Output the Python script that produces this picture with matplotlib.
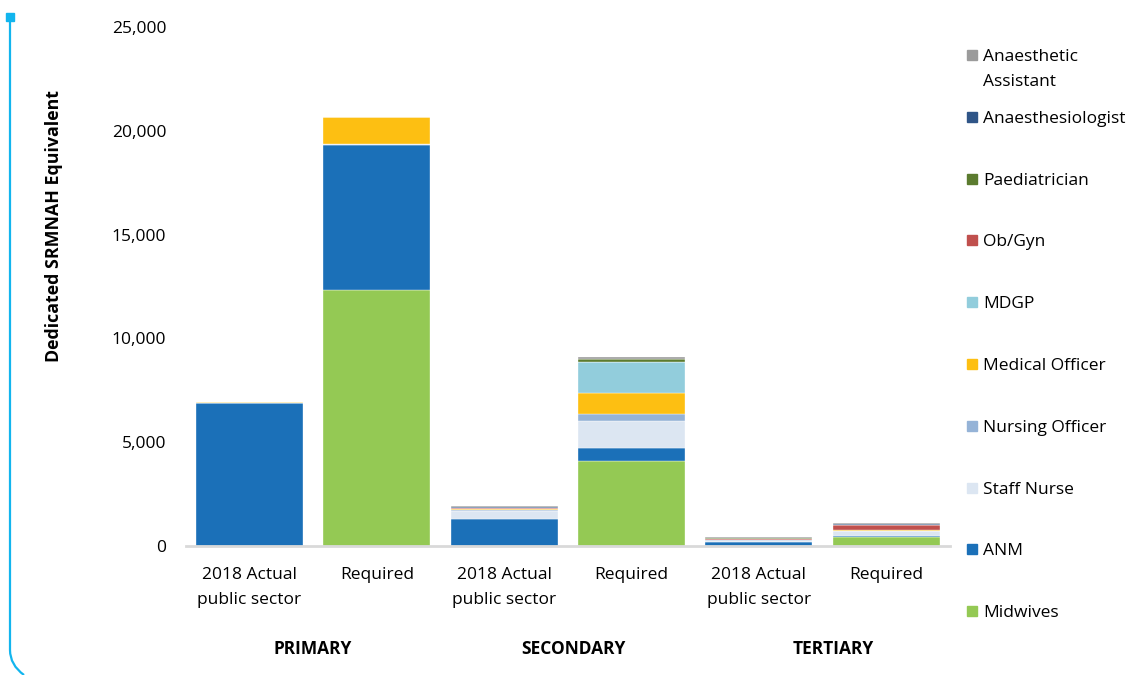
import numpy as np
import matplotlib.pyplot as plt
from matplotlib.patches import Rectangle
from matplotlib.path import Path
from matplotlib.patches import PathPatch

plt.rcParams['font.family'] = ['Open Sans', 'DejaVu Sans']

# bars: three levels of care, actual vs required
categories = ['2018 Actual\npublic sector', 'Required'] * 3
groups = ['PRIMARY', 'SECONDARY', 'TERTIARY']

# cadres, bottom of the stack first
cadres = ['Midwives', 'ANM', 'Staff Nurse', 'Nursing Officer', 'Medical Officer',
          'MDGP', 'Ob/Gyn', 'Paediatrician', 'Anaesthesiologist',
          'Anaesthetic\nAssistant']
midwives = [0, 12340, 0, 4100, 0, 430]
anm = [6880, 6985, 1300, 630, 190, 30]
staff_nurse = [0, 60, 380, 1300, 60, 240]
nursing_officer = [0, 0, 60, 340, 30, 40]
medical_officer = [60, 1275, 50, 1010, 30, 50]
mdgp = [0, 0, 0, 1490, 0, 0]
ob_gyn = [0, 0, 30, 0, 30, 200]
paediatrician = [0, 0, 30, 140, 30, 40]
anaesthesiologist = [0, 0, 20, 20, 20, 20]
anaesthetic_assistant = [0, 0, 50, 60, 40, 50]

series = [midwives, anm, staff_nurse, nursing_officer, medical_officer,
          mdgp, ob_gyn, paediatrician, anaesthesiologist, anaesthetic_assistant]
colors = ['#94c954', '#1b70b8', '#dce6f2', '#95b3d7', '#fdbf12',
          '#92cddc', '#c0504d', '#5b7b2f', '#2f5587', '#9b9b9b']

fig = plt.figure(figsize=(11.35, 6.75), dpi=100)
ax = fig.add_axes([0.1637, 0.1911, 0.6733, 0.769])

x = np.arange(len(categories))
bottom = np.zeros(len(categories))
for vals, c in zip(series, colors):
    vals = np.array(vals, dtype=float)
    ax.bar(x, vals, bottom=bottom, width=0.84, color=c,
           edgecolor='white', linewidth=0.25)
    bottom += vals

ax.set_xlim(-0.5, len(categories) - 0.5)
ax.set_ylim(0, 25000)
ax.set_yticks(np.arange(0, 25001, 5000))
ax.set_yticklabels([f'{v:,}' for v in range(0, 25001, 5000)])
ax.set_xticks(x)
ax.set_xticklabels(categories, linespacing=1.75)
ax.tick_params(axis='y', length=0, pad=14, labelsize=12.5)
ax.tick_params(axis='x', length=0, pad=15, labelsize=12.5)

for s in ['top', 'right', 'left']:
    ax.spines[s].set_visible(False)
ax.spines['bottom'].set_color('#d9d9d9')
ax.spines['bottom'].set_linewidth(2)

# group names under each pair of bars
for i, g in enumerate(groups):
    ax.text(2 * i + 0.5 + 0.04 * i, -0.199, g, transform=ax.get_xaxis_transform(),
            ha='center', va='center', fontsize=12.5, fontweight='bold')

fig.text(0.048, 0.665, 'Dedicated SRMNAH Equivalent', rotation=90,
         ha='center', va='center', fontsize=12.8, fontweight='bold')

# legend, top entry first
W, H = 1135, 675
for i, (name, c) in enumerate(zip(cadres[::-1], colors[::-1])):
    yc = 55 + i * 61.8
    fig.patches.append(Rectangle(((967) / W, 1 - (yc + 5) / H), 10 / W, 10 / H,
                                 transform=fig.transFigure, color=c))
    fig.text(983 / W, 1 - (yc - 6) / H, name, ha='left', va='top',
             fontsize=12.5, linespacing=1.75)

# blue bracket down the left edge
verts = [(10, 17), (10, 650), (10, 665), (24, 675)]
verts = [(vx / W, 1 - vy / H) for vx, vy in verts]
path = Path(verts, [Path.MOVETO, Path.LINETO, Path.CURVE3, Path.CURVE3])
fig.patches.append(PathPatch(path, transform=fig.transFigure, fill=False,
                             edgecolor='#12b5ee', linewidth=1.6))
fig.patches.append(Rectangle((6 / W, 1 - 21 / H), 8 / W, 8 / H,
                             transform=fig.transFigure, color='#12b5ee'))

fig.savefig('out.png', dpi=100)
